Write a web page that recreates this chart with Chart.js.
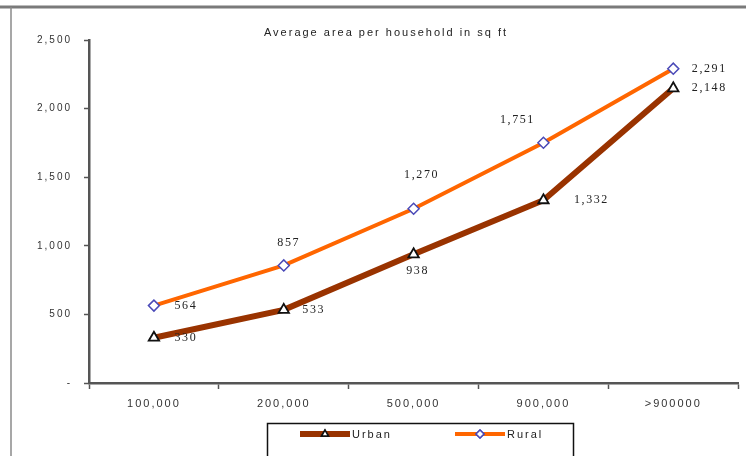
<!DOCTYPE html>
<html>
<head>
<meta charset="utf-8">
<script src="https://cdn.jsdelivr.net/npm/chart.js@4/dist/chart.umd.min.js"></script>
<style>
html,body{margin:0;padding:0;background:#fff;}
#wrap{position:relative;width:746px;height:456px;}
</style>
</head>
<body>
<div id="wrap"><canvas id="c" width="746" height="456"></canvas></div>
<script>
const categories = ['100,000', '200,000', '500,000', '900,000', '>900000'];
const urbanValues = [330, 533, 938, 1332, 2148];
const ruralValues = [564, 857, 1270, 1751, 2291];
const yTicks = [0, 500, 1000, 1500, 2000, 2500];
const chartTitle = 'Average area per household in sq ft';

const fmt = v => v === 0 ? '-' : v.toLocaleString('en-US');

const framePlugin = {
  id: 'frame',
  beforeLayout(chart) { chart.ctx.letterSpacing = '2px'; },
  beforeDraw(chart) {
    const ctx = chart.ctx;
    ctx.save();
    ctx.fillStyle = '#fff';
    ctx.fillRect(0, 0, chart.width, chart.height);
    ctx.strokeStyle = '#7a7a7a';
    ctx.lineWidth = 3;
    ctx.beginPath(); ctx.moveTo(0, 7); ctx.lineTo(chart.width, 7); ctx.stroke();
    ctx.strokeStyle = '#8a8a8a';
    ctx.lineWidth = 1.5;
    ctx.beginPath(); ctx.moveTo(11, 7); ctx.lineTo(11, chart.height); ctx.stroke();
    ctx.letterSpacing = '2px';
    ctx.fillStyle = '#222';
    ctx.font = '11px "Liberation Sans", Arial, sans-serif';
    ctx.textAlign = 'center';
    ctx.textBaseline = 'middle';
    ctx.fillText(chartTitle, 386, 33);
    ctx.restore();
    ctx.letterSpacing = '2px';
  },
  afterDatasetsDraw(chart, args, opts) {
    const ctx = chart.ctx;
    ctx.save();
    ctx.letterSpacing = '1.6px';
    ctx.font = '12px "Liberation Serif", "Times New Roman", serif';
    ctx.fillStyle = '#222';
    ctx.textAlign = 'center';
    ctx.textBaseline = 'middle';
    chart.data.datasets.forEach((ds, di) => {
      const meta = chart.getDatasetMeta(di);
      const offs = opts.offsets[di];
      meta.data.forEach((pt, i) => {
        ctx.fillText(fmt(ds.data[i]), pt.x + offs[i][0], pt.y + offs[i][1]);
      });
    });
    ctx.restore();
  },
  afterDraw(chart) {
    const ctx = chart.ctx;
    ctx.save();
    ctx.strokeStyle = '#111';
    ctx.lineWidth = 1.5;
    ctx.strokeRect(267.5, 423.5, 306, 50);
    // Urban sample
    const items = [
      {x0: 300, x1: 350, color: '#993300', w: 6, style: 'triangle', border: '#111', label: chart.data.datasets[0].label},
      {x0: 455, x1: 505, color: '#ff6600', w: 4, style: 'rectRot', border: '#4a4ab8', label: chart.data.datasets[1].label}
    ];
    items.forEach(it => {
      ctx.strokeStyle = it.color;
      ctx.lineWidth = it.w;
      ctx.beginPath(); ctx.moveTo(it.x0, 434); ctx.lineTo(it.x1, 434); ctx.stroke();
      ctx.fillStyle = '#fff';
      ctx.strokeStyle = it.border;
      ctx.lineWidth = 1.5;
      Chart.helpers.drawPoint(ctx, {pointStyle: it.style, radius: 4, borderWidth: 1.5, rotation: 0}, (it.x0 + it.x1) / 2, 434);
      ctx.fill(); ctx.stroke();
      ctx.letterSpacing = '2px';
      ctx.fillStyle = '#222';
      ctx.font = '11px "Liberation Sans", Arial, sans-serif';
      ctx.textAlign = 'left';
      ctx.textBaseline = 'middle';
      ctx.fillText(it.label, it.x1 + 2, 435);
    });
    ctx.restore();
  }
};

new Chart(document.getElementById('c'), {
  type: 'line',
  data: {
    labels: categories,
    datasets: [
      {
        label: 'Urban',
        data: urbanValues,
        borderColor: '#993300',
        borderWidth: 6,
        tension: 0,
        pointStyle: 'triangle',
        pointRadius: 6,
        pointBorderColor: '#111',
        pointBackgroundColor: '#fff',
        pointBorderWidth: 1.8
      },
      {
        label: 'Rural',
        data: ruralValues,
        borderColor: '#ff6600',
        borderWidth: 4,
        tension: 0,
        pointStyle: 'rectRot',
        pointRadius: 5.5,
        pointBorderColor: '#4a4ab8',
        pointBackgroundColor: '#fff',
        pointBorderWidth: 1.5
      }
    ]
  },
  options: {
    responsive: false,
    animation: false,
    devicePixelRatio: 1,
    layout: {padding: {top: 40, right: 7, bottom: 0, left: 0}},
    plugins: {
      legend: {display: false},
      title: {display: false},
      tooltip: {enabled: false},
      frame: {
        offsets: [
          [[32, 0], [30, 0], [4, 17], [48, 0], [36, 0]],
          [[32, 0], [5, -23], [8, -34], [-26, -23], [36, 0]]
        ]
      }
    },
    scales: {
      x: {
        type: 'category',
        offset: true,
        afterFit(s) { s.height = 73; },
        grid: {display: true, offset: true, drawOnChartArea: false, drawTicks: true, tickLength: 6, color: '#555', tickWidth: 1.5},
        border: {display: true, color: '#555', width: 2.5},
        ticks: {color: '#333', font: {family: '"Liberation Sans", Arial, sans-serif', size: 11}, padding: 8, maxRotation: 0, autoSkip: false}
      },
      y: {
        min: 0,
        max: 2500,
        afterFit(s) { s.width = 89; },
        afterBuildTicks(s) { s.ticks = yTicks.map(v => ({value: v})); },
        grid: {display: true, drawOnChartArea: false, drawTicks: true, tickLength: 5, color: '#555', tickWidth: 1.5},
        border: {display: true, color: '#555', width: 2.5},
        ticks: {color: '#333', font: {family: '"Liberation Sans", Arial, sans-serif', size: 10}, padding: 12, callback: v => fmt(v)}
      }
    }
  },
  plugins: [framePlugin]
});
</script>
</body>
</html>
